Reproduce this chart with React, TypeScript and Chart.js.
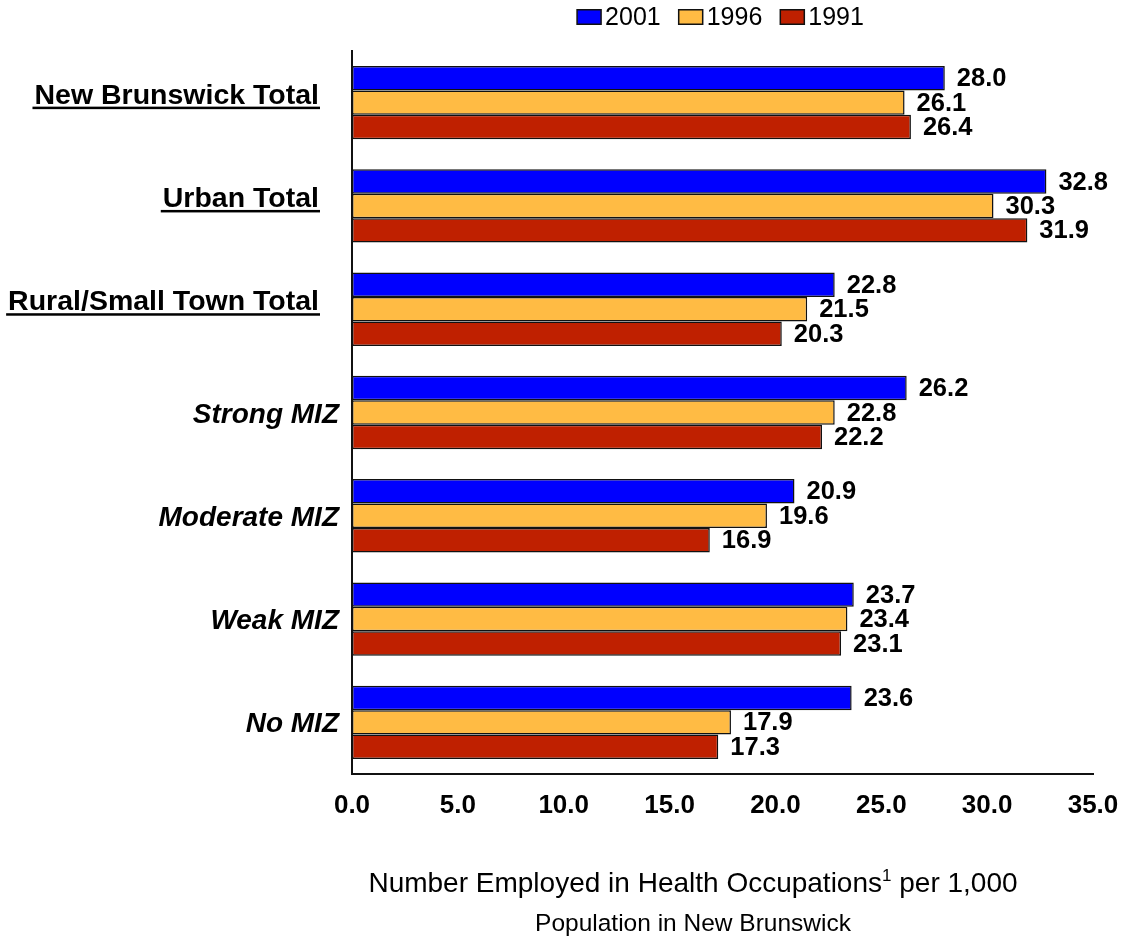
import React, { useEffect, useRef } from 'react';
import { Chart, registerables } from 'chart.js';

Chart.register(...registerables);

const categories = [
  'New Brunswick Total',
  'Urban Total',
  'Rural/Small Town Total',
  'Strong MIZ',
  'Moderate MIZ',
  'Weak MIZ',
  'No MIZ',
];
const categoryKinds = ['total', 'total', 'total', 'miz', 'miz', 'miz', 'miz'];
const seriesNames = ['2001', '1996', '1991'];
const values2001 = [28.0, 32.8, 22.8, 26.2, 20.9, 23.7, 23.6];
const values1996 = [26.1, 30.3, 21.5, 22.8, 19.6, 23.4, 17.9];
const values1991 = [26.4, 31.9, 20.3, 22.2, 16.9, 23.1, 17.3];
const seriesColors = ['#0000FF', '#FFBB44', '#BF2000'];
const xMin = 0;
const xMax = 35;
const xStep = 5;
const titleMain = 'Number Employed in Health Occupations';
const titleSup = '1';
const titleEnd = ' per 1,000';
const titleLine2 = 'Population in New Brunswick';

const FONT = "'Liberation Sans', Arial, Helvetica, sans-serif";

const textPlugin = {
  id: 'customText',
  afterDatasetsDraw(chart: any) {
    const ctx = chart.ctx as CanvasRenderingContext2D;
    const area = chart.chartArea;
    ctx.save();
    ctx.fillStyle = '#000';

    // value labels
    ctx.font = `bold 25.5px ${FONT}`;
    ctx.textAlign = 'left';
    ctx.textBaseline = 'middle';
    chart.data.datasets.forEach((ds: any, di: number) => {
      const meta = chart.getDatasetMeta(di);
      meta.data.forEach((bar: any, i: number) => {
        const v = ds.data[i] as number;
        ctx.fillText(v.toFixed(1), bar.x + 12, bar.y + 1);
      });
    });

    // category labels
    const yScale = chart.scales.y;
    categories.forEach((c, i) => {
      const y = yScale.getPixelForValue(i);
      ctx.textBaseline = 'alphabetic';
      ctx.textAlign = 'right';
      if (categoryKinds[i] === 'total') {
        ctx.font = `bold 28.5px ${FONT}`;
        const right = area.left - 33;
        ctx.fillText(c, right, y + 1);
        const w = ctx.measureText(c).width;
        ctx.fillRect(right - w - 2, y + 4, w + 3, 2.5);
      } else {
        ctx.font = `italic bold 28px ${FONT}`;
        ctx.fillText(c, area.left - 13, y + 10);
      }
    });

    // legend
    ctx.font = `25px ${FONT}`;
    ctx.textBaseline = 'middle';
    ctx.textAlign = 'left';
    const boxW = 24;
    const boxH = 14.5;
    const gapBox = 4;
    const gapItem = 18;
    const widths = chart.data.datasets.map((ds: any) => ctx.measureText(ds.label).width);
    const total =
      widths.reduce((a: number, b: number) => a + b, 0) +
      widths.length * (boxW + gapBox) +
      (widths.length - 1) * gapItem;
    let lx = (area.left + area.right) / 2 - 2 - total / 2;
    const ly = 17;
    chart.data.datasets.forEach((ds: any, di: number) => {
      ctx.fillStyle = ds.backgroundColor;
      ctx.fillRect(lx, ly - boxH / 2, boxW, boxH);
      ctx.strokeStyle = '#111';
      ctx.lineWidth = 1.5;
      ctx.strokeRect(lx, ly - boxH / 2, boxW, boxH);
      ctx.fillStyle = '#000';
      ctx.fillText(ds.label, lx + boxW + gapBox, ly + 1);
      lx += boxW + gapBox + widths[di] + gapItem;
    });

    // axis title
    const cx = (area.left + area.right) / 2 - 29.5;
    ctx.textBaseline = 'alphabetic';
    ctx.textAlign = 'left';
    ctx.font = `28px ${FONT}`;
    const wMain = ctx.measureText(titleMain).width;
    const wEnd = ctx.measureText(titleEnd).width;
    ctx.font = `17px ${FONT}`;
    const wSup = ctx.measureText(titleSup).width;
    const w1 = wMain + wSup + wEnd;
    let tx = cx - w1 / 2;
    const base1 = area.bottom + 118;
    ctx.font = `28px ${FONT}`;
    ctx.fillText(titleMain, tx, base1);
    tx += wMain;
    ctx.font = `17px ${FONT}`;
    ctx.fillText(titleSup, tx, base1 - 11);
    tx += wSup;
    ctx.font = `28px ${FONT}`;
    ctx.fillText(titleEnd, tx, base1);
    ctx.font = `24.5px ${FONT}`;
    ctx.textAlign = 'center';
    ctx.fillText(titleLine2, cx, area.bottom + 157);

    ctx.restore();
  },
};

export default function App() {
  const canvasRef = useRef<HTMLCanvasElement | null>(null);

  useEffect(() => {
    document.body.style.margin = '0';
    const canvas = canvasRef.current;
    if (!canvas) return;
    const seriesValues = [values2001, values1996, values1991];
    const chart = new Chart(canvas, {
      type: 'bar',
      data: {
        labels: categories,
        datasets: seriesNames.map((name, i) => ({
          label: name,
          data: seriesValues[i],
          backgroundColor: seriesColors[i],
          borderColor: '#111',
          borderWidth: 1.5,
          borderSkipped: false,
          barPercentage: 1,
          categoryPercentage: 0.71,
        })),
      },
      options: {
        indexAxis: 'y',
        animation: false,
        responsive: true,
        maintainAspectRatio: false,
        layout: { padding: { top: 51, right: 33, left: 0, bottom: 0 } },
        plugins: {
          legend: { display: false },
          tooltip: { enabled: false },
          title: { display: false },
        },
        scales: {
          x: {
            type: 'linear',
            min: xMin,
            max: xMax,
            grid: { display: false, drawTicks: true, tickLength: 16 },
            border: { display: true, color: '#111', width: 2 },
            ticks: {
              stepSize: xStep,
              autoSkip: false,
              maxRotation: 0,
              padding: 0,
              color: '#000',
              font: { family: FONT, size: 26, weight: 'bold' },
              callback: (v: any) => Number(v).toFixed(1),
            },
            afterFit: (scale: any) => {
              scale.height = 941 - 774;
            },
          },
          y: {
            type: 'category',
            grid: { display: false, drawTicks: false },
            border: { display: true, color: '#111', width: 2 },
            ticks: { display: false },
            afterFit: (scale: any) => {
              scale.width = 352;
            },
          },
        },
      },
      plugins: [textPlugin],
    });
    return () => chart.destroy();
  }, []);

  return (
    <div style={{ position: 'relative', width: '1126px', height: '941px' }}>
      <canvas ref={canvasRef} />
    </div>
  );
}
